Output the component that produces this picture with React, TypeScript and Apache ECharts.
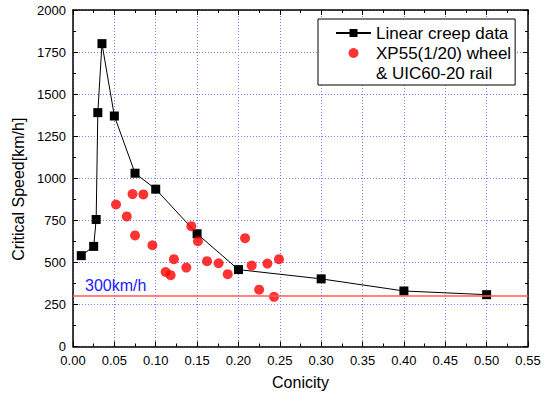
import React, { useEffect, useRef } from "react";
import * as echarts from "echarts";

const creepConicity = [0.01, 0.025, 0.028, 0.03, 0.035, 0.05, 0.075, 0.1, 0.15, 0.2, 0.3, 0.4, 0.5];
const creepSpeed = [540, 595, 755, 1390, 1800, 1370, 1030, 935, 670, 457, 402, 330, 308];

const xpConicity = [0.052, 0.065, 0.072, 0.085, 0.075, 0.096, 0.112, 0.118, 0.122, 0.137, 0.143, 0.151, 0.162, 0.176, 0.187, 0.208, 0.216, 0.225, 0.235, 0.243, 0.249];
const xpSpeed = [844, 773, 906, 904, 660, 602, 443, 424, 519, 469, 715, 626, 507, 495, 430, 644, 481, 338, 493, 295, 519];

const limitSpeed = 300;
const limitLabel = "300km/h";

const creepName = "Linear creep data";
const xpName = "XP55(1/20) wheel\n& UIC60-20 rail";

const FONT = "'Liberation Sans', Arial, sans-serif";

export default function App() {
  const ref = useRef<HTMLDivElement>(null);
  useEffect(() => {
    if (!ref.current) return;
    const chart = echarts.init(ref.current, undefined, { renderer: "svg" });
    const axisCommon = {
      min: 0,
      axisLine: { show: true, onZero: false, lineStyle: { color: "#000", width: 1.5 } },
      axisTick: { show: true, inside: true, length: 5, lineStyle: { color: "#000", width: 1 } },
      minorTick: { show: true, splitNumber: 2, length: 3, lineStyle: { color: "#000", width: 1 } },
    };
    chart.setOption({
      animation: false,
      textStyle: { fontFamily: FONT },
      grid: { left: 73, top: 10, right: 16, bottom: 51.5, containLabel: false },
      legend: {
        orient: "vertical",
        left: 318,
        top: 19,
        backgroundColor: "#fff",
        borderColor: "#000",
        borderWidth: 1,
        padding: [4, 4, 2, 17],
        itemGap: -20,
        itemWidth: 35,
        itemHeight: 10,
        formatter: (name: string) => (name === xpName ? "\n" + name : name),
        textStyle: { fontFamily: FONT, fontSize: 17, color: "#000", lineHeight: 20 },
        data: [{ name: creepName }, { name: xpName, icon: "circle" }],
      },
      xAxis: [
        {
          ...axisCommon,
          type: "value",
          max: 0.55,
          interval: 0.05,
          position: "bottom",
          name: "Conicity",
          nameLocation: "middle",
          nameGap: 28,
          nameTextStyle: { fontFamily: FONT, fontSize: 16, color: "#000" },
          axisLabel: {
            fontFamily: FONT,
            fontSize: 13,
            color: "#000",
            margin: 7,
            formatter: (v: number) => v.toFixed(2),
          },
          splitLine: { show: true, lineStyle: { color: "#7b7bff", type: [1, 2], width: 1 } },
        },
        {
          ...axisCommon,
          type: "value",
          max: 0.55,
          interval: 0.05,
          position: "top",
          axisLabel: { show: false },
          splitLine: { show: false },
        },
      ],
      yAxis: [
        {
          ...axisCommon,
          type: "value",
          max: 2000,
          interval: 250,
          position: "left",
          name: "Critical Speed[km/h]",
          nameLocation: "middle",
          nameGap: 45,
          nameTextStyle: { fontFamily: FONT, fontSize: 16, color: "#000", padding: [0, 22, 0, 0] },
          axisLabel: {
            fontFamily: FONT,
            fontSize: 13,
            color: "#000",
            margin: 7,
            formatter: (v: number) => String(v),
          },
          splitLine: { show: true, lineStyle: { color: "#7b7bff", type: [1, 2], width: 1 } },
        },
        {
          ...axisCommon,
          type: "value",
          max: 2000,
          interval: 250,
          position: "right",
          axisLabel: { show: false },
          splitLine: { show: false },
        },
      ],
      series: [
        {
          name: creepName,
          type: "line",
          data: creepConicity.map((c, i) => [c, creepSpeed[i]]),
          symbol: "rect",
          symbolSize: 9,
          itemStyle: { color: "#000" },
          lineStyle: { color: "#000", width: 1 },
          z: 3,
        },
        {
          name: xpName,
          type: "scatter",
          data: xpConicity.map((c, i) => [c, xpSpeed[i]]),
          symbol: "circle",
          symbolSize: 10,
          itemStyle: { color: "#ff0000" },
          z: 4,
          markLine: {
            silent: true,
            symbol: "none",
            lineStyle: { color: "#ff5a5a", width: 1.5, type: "solid" },
            label: {
              show: true,
              position: "insideStartTop",
              formatter: limitLabel,
              color: "#2020ff",
              fontFamily: FONT,
              fontSize: 16,
              distance: [12, 3],
            },
            data: [{ yAxis: limitSpeed }],
          },
        },
      ],
    });
    return () => chart.dispose();
  }, []);
  return (
    <div
      ref={ref}
      style={{ position: "fixed", left: 0, top: 0, width: 544, height: 398, background: "#fff" }}
    />
  );
}
